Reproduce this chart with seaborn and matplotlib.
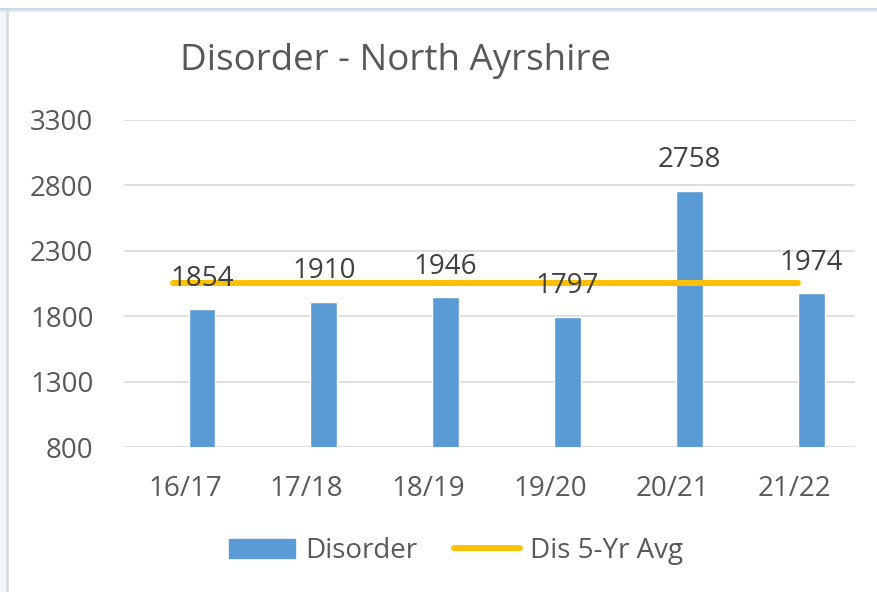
import numpy as np
import pandas as pd
import matplotlib.pyplot as plt
import seaborn as sns
from matplotlib.lines import Line2D
from matplotlib.patches import Patch, Rectangle

# Chart data
years = ['16/17', '17/18', '18/19', '19/20', '20/21', '21/22']
disorder = [1854, 1910, 1946, 1797, 2758, 1974]
# 5-year average of the first five years
avg_5yr = np.mean(disorder[:5])

y_ticks = [800, 1300, 1800, 2300, 2800, 3300]

BLUE = '#5B9BD5'
GOLD = '#FFC000'
GREY_TXT = '#595959'
GRID = '#D9D9D9'

sns.set_theme(style='white')
plt.rcParams['font.family'] = ['Open Sans', 'DejaVu Sans']

fig = plt.figure(figsize=(8.78, 5.92), dpi=100)
ax = fig.add_axes([124 / 878, 1 - 447 / 592, 731 / 878, 327 / 592])

# bars sit a little right of the category centre, like the Excel original
bar_shift = 0.14
df = pd.DataFrame({'pos': np.arange(len(years)) + bar_shift, 'value': disorder})
sns.barplot(data=df, x='pos', y='value', native_scale=True, width=0.22,
            color=BLUE, saturation=1, ax=ax, zorder=2)

# average line
ax.hlines(avg_5yr, -0.1, 5.03, color=GOLD, lw=4.3, capstyle='round', zorder=3)

# data labels
for x, v in zip(df['pos'], disorder):
    ax.annotate(str(v), (x, v), xytext=(0, 22), textcoords='offset points',
                ha='center', va='center', fontsize=20, color='#404040', zorder=4)

ax.set_xlim(-0.5, 5.5)
ax.set_ylim(800, 3300)
ax.set_xticks(range(len(years)), years)
ax.set_yticks(y_ticks)
ax.tick_params(axis='both', length=0, labelsize=20, colors=GREY_TXT)
ax.tick_params(axis='y', pad=22)
ax.tick_params(axis='x', pad=20)
ax.yaxis.grid(True, color=GRID, lw=1.2, zorder=0)
ax.set_axisbelow(True)
for s in ax.spines.values():
    s.set_visible(False)
ax.set_xlabel('')
ax.set_ylabel('')

fig.text(396 / 878, 1 - 61 / 592, 'Disorder - North Ayrshire', ha='center', va='center',
         fontsize=26.5, color=GREY_TXT)

handles = [Patch(facecolor=BLUE, edgecolor=BLUE),
           Line2D([0], [0], color=GOLD, lw=4.3, solid_capstyle='round')]
fig.legend(handles, ['Disorder', 'Dis 5-Yr Avg'], loc='center',
           bbox_to_anchor=(456 / 878, 1 - 551 / 592), ncol=2, frameon=False,
           fontsize=20, labelcolor=GREY_TXT, handlelength=2.4, handleheight=0.7,
           handletextpad=0.36, columnspacing=1.3)

# screenshot frame of the Excel chart
fig.patches.append(Rectangle((0, 0), 6 / 878, 1 - 9 / 592, transform=fig.transFigure,
                             facecolor='#F2F5F9', edgecolor='none'))
fig.add_artist(Line2D([0, 1], [1 - 9 / 592] * 2, transform=fig.transFigure,
                      color='#C5DAEE', lw=1.5))
fig.add_artist(Line2D([0, 1], [1 - 11 / 592] * 2, transform=fig.transFigure,
                      color='#E3E3E3', lw=1.2))
fig.add_artist(Line2D([7 / 878] * 2, [0, 1 - 9 / 592], transform=fig.transFigure,
                      color='#DADADA', lw=2))

fig.savefig('out.png', dpi=100)
